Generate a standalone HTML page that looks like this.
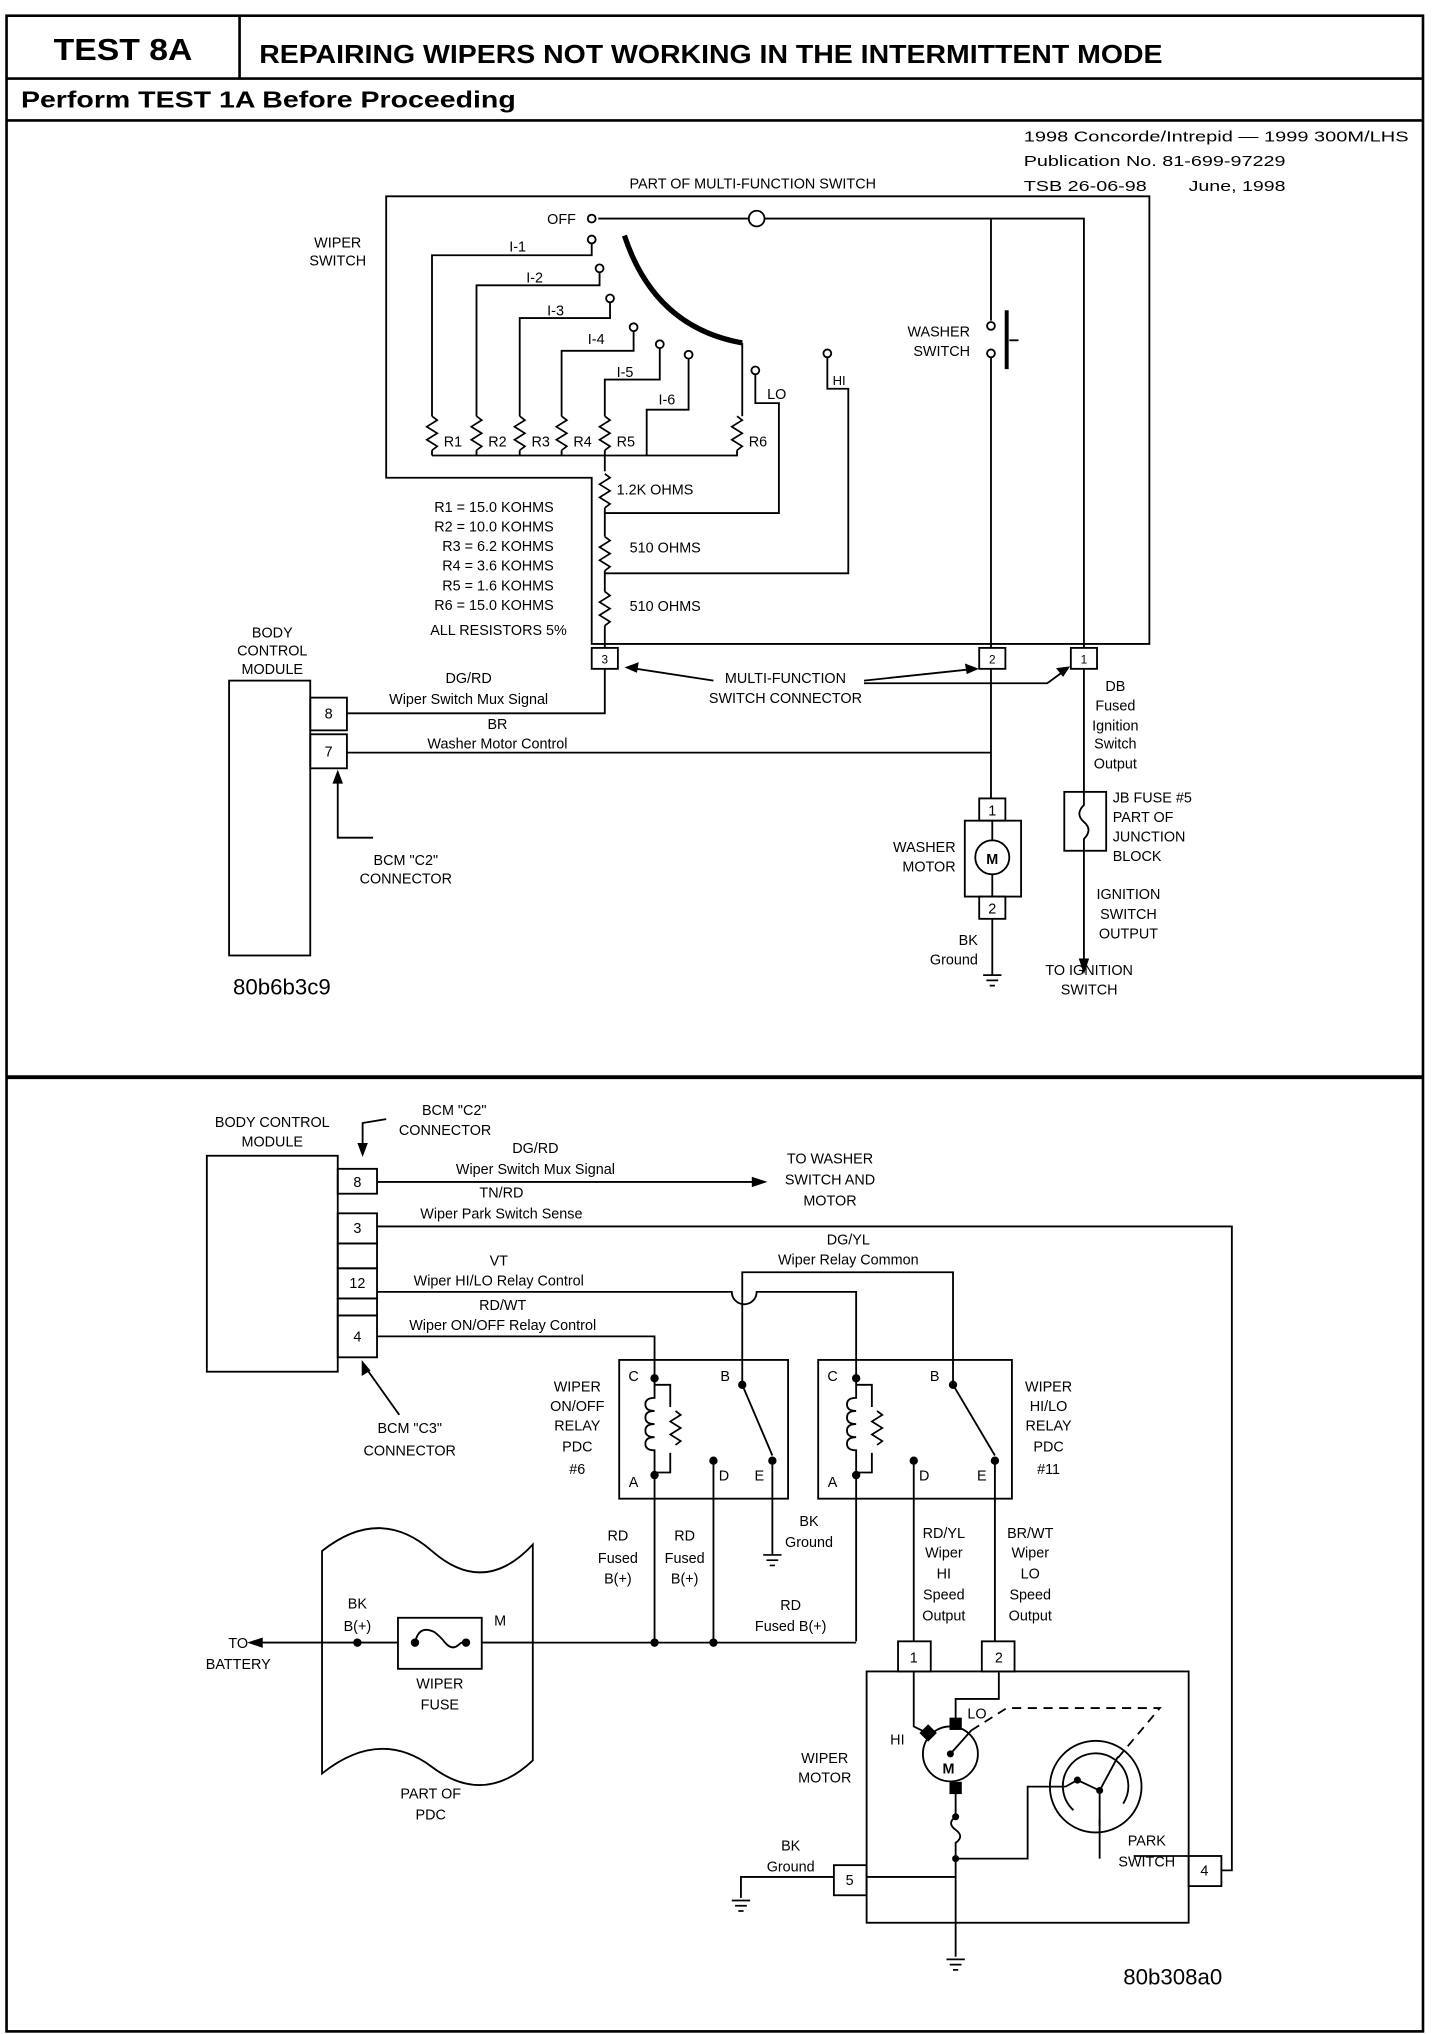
<!DOCTYPE html>
<html><head><meta charset="utf-8"><style>
html,body{margin:0;padding:0;background:#fff}
svg{display:block}
text{font-family:"Liberation Sans",sans-serif;font-size:11px;fill:#000}
</style></head><body>
<svg width="1440" height="2034" viewBox="0 0 1100 1554" preserveAspectRatio="none" xmlns="http://www.w3.org/2000/svg">
<defs>
<path id="zig" d="M0 0 l4 3 l-8 5 l8 5 l-8 5 l8 5 l-4 3" fill="none" stroke="#000" stroke-width="1.3"/>
<path id="gnd" d="M-7 0 h14 M-4.5 4 h9 M-2 8 h4" stroke="#000" stroke-width="1.3" fill="none"/>
</defs>
<g fill="none" stroke="#000" stroke-width="1.4">
<rect x="5" y="12" width="1082" height="1540" stroke-width="2"/>
<line x1="5" y1="60" x2="1087" y2="60" stroke-width="2"/>
<line x1="183" y1="12" x2="183" y2="60" stroke-width="2"/>
<line x1="5" y1="92" x2="1087" y2="92" stroke-width="2"/>
<line x1="5" y1="823" x2="1087" y2="823" stroke-width="3"/>

<path d="M295 150 H878 V492 H452 V365 H295 Z"/>
<path d="M457 167 H828 V495"/>
<circle cx="452" cy="167" r="3"/>
<circle cx="578" cy="167" r="6" fill="#fff"/>
<path d="M477 180 Q500 250 567 262" stroke-width="4"/>
<path d="M567 262 V318"/>
<use href="#zig" x="563" y="318"/>
<circle cx="452" cy="183" r="3"/><path d="M452 186 V195 H330 V318"/>
<circle cx="458" cy="205" r="3"/><path d="M458 208 V218 H364 V318"/>
<circle cx="466" cy="228" r="3"/><path d="M466 231 V243 H397 V318"/>
<circle cx="484" cy="250" r="3"/><path d="M484 253 V268 H429 V318"/>
<circle cx="504" cy="263" r="3"/><path d="M504 266 V290 H462 V318"/>
<circle cx="526" cy="271" r="3"/><path d="M526 274 V313 H494 V348"/>
<circle cx="577" cy="283" r="3"/><path d="M577 286 V308 H595 V392 H462"/>
<circle cx="632" cy="270" r="3"/><path d="M632 273 V297 H648 V438 H462"/>
<use href="#zig" x="330" y="318"/><use href="#zig" x="364" y="318"/><use href="#zig" x="397" y="318"/>
<use href="#zig" x="429" y="318"/><use href="#zig" x="462" y="318"/>
<path d="M330 344 V348 M364 344 V348 M397 344 V348 M429 344 V348 M462 344 V360 M563 344 V348 H330"/>
<use href="#zig" x="462" y="362"/><path d="M462 388 V410"/>
<use href="#zig" x="462" y="410"/><path d="M462 436 V452"/>
<use href="#zig" x="462" y="452"/><path d="M462 478 V495"/>
<path d="M757 167 V245 M757 273 V495"/>
<circle cx="757" cy="249" r="3"/><circle cx="757" cy="270" r="3"/>
<path d="M769 237 V282" stroke-width="3"/><path d="M771 260 H778"/>
<rect x="452" y="495" width="20" height="16"/><rect x="748" y="495" width="20" height="16"/><rect x="818" y="495" width="20" height="16"/>
<rect x="175" y="520" width="62" height="210"/>
<rect x="237" y="533" width="28" height="25"/><rect x="237" y="561" width="28" height="26"/>
<path d="M265 545 H462 V511"/>
<path d="M265 575 H757"/>
<path d="M757 511 V610"/>
<path d="M258 590 V640 H285"/><path d="M258 590 l-3 8 h6 z" fill="#000"/>
<path d="M545 520 L480 510"/><path d="M479 510 l8 -3 l-1 6 z" fill="#000"/>
<path d="M660 520 L745 511"/><path d="M746 511 l-8 -3 l1 6 z" fill="#000"/>
<path d="M660 522 H800 L815 511"/><path d="M816 510 l-8 1 l4 5 z" fill="#000"/>
<rect x="748" y="610" width="20" height="17"/>
<rect x="737" y="627" width="43" height="58"/>
<circle cx="758" cy="655" r="13"/>
<rect x="748" y="685" width="20" height="17"/>
<path d="M758 627 V642 M758 668 V685 M758 702 V745"/>
<use href="#gnd" x="758" y="745"/>
<path d="M828 511 V735"/>
<rect x="813" y="605" width="32" height="45" fill="#fff"/>
<path d="M828 605 V615 q-7 7 0 13 q7 6 0 13 V650"/>
<path d="M828 742 l-3 -9 h6 z" fill="#000"/>

<rect x="158" y="883" width="100" height="165"/>
<rect x="258" y="893" width="30" height="19"/><rect x="258" y="927" width="30" height="23"/>
<rect x="258" y="950" width="30" height="19"/><rect x="258" y="969" width="30" height="23"/>
<rect x="258" y="992" width="30" height="13"/><rect x="258" y="1005" width="30" height="32"/>
<path d="M295 855 L277 858 V880"/><path d="M277 882 l-3 -8 h6 z" fill="#000"/>
<path d="M305 1081 L278 1043"/><path d="M277 1041 l0 9 l5 -3 z" fill="#000"/>
<path d="M288 903 H576"/><path d="M584 903 l-9 -3 v6 z" fill="#000"/>
<path d="M288 937 H941 V1429 H933"/>
<path d="M288 987 H559 a9.5 9.5 0 0 0 19 0 H654 V1053"/>
<path d="M288 1021 H500 V1053"/>
<path d="M567 1058 V972 H728 V1058"/>
<rect x="473" y="1039" width="129" height="106"/>
<circle cx="500" cy="1053" r="2.5" fill="#000"/><circle cx="500" cy="1127" r="2.5" fill="#000"/>
<path d="M500 1053 V1068 q-7 0 -7 5 q0 5 7 5 q-7 0 -7 5 q0 5 7 5 q-7 0 -7 5 q0 5 7 5 q-7 0 -7 5 q0 5 7 5 V1127"/>
<path d="M500 1058 H512 V1075 M512 1110 V1125 H500"/>
<use href="#zig" x="516" y="1078"/>
<circle cx="567" cy="1058" r="2.5" fill="#000"/><path d="M567 1058 L590 1112"/>
<circle cx="590" cy="1116" r="2.5" fill="#000"/><circle cx="545" cy="1116" r="2.5" fill="#000"/>
<path d="M500 1127 V1255 M545 1116 V1255 M590 1116 V1188"/>
<use href="#gnd" x="590" y="1188"/>
<rect x="625" y="1039" width="148" height="106"/>
<circle cx="654" cy="1053" r="2.5" fill="#000"/><circle cx="654" cy="1127" r="2.5" fill="#000"/>
<path d="M654 1053 V1068 q-7 0 -7 5 q0 5 7 5 q-7 0 -7 5 q0 5 7 5 q-7 0 -7 5 q0 5 7 5 q-7 0 -7 5 q0 5 7 5 V1127"/>
<path d="M654 1058 H666 V1075 M666 1110 V1125 H654"/>
<use href="#zig" x="670" y="1078"/>
<circle cx="728" cy="1058" r="2.5" fill="#000"/><path d="M728 1058 L760 1112"/>
<circle cx="760" cy="1116" r="2.5" fill="#000"/><circle cx="698" cy="1116" r="2.5" fill="#000"/>
<path d="M654 1127 V1254 M698 1116 V1254 M760 1116 V1254"/>
<path d="M199 1255 H654"/><path d="M191 1255 l9 -3 v6 z" fill="#000"/>
<circle cx="273" cy="1255" r="2.5" fill="#000"/><circle cx="500" cy="1255" r="2.5" fill="#000"/><circle cx="545" cy="1255" r="2.5" fill="#000"/>
<path d="M246 1185 Q290 1150 330 1185 T407 1180 V1345 Q370 1380 330 1350 T246 1355 Z"/>
<rect x="304" y="1236" width="64" height="39" fill="#fff"/>
<path d="M317 1255 q3 -14 15 -8 q5 4 8 8 q5 6 10 2 q3 -3 5 -2"/>
<circle cx="317" cy="1255" r="2.5" fill="#000"/><circle cx="356" cy="1255" r="2.5" fill="#000"/>
<path d="M304 1255 H199 M368 1255 H407"/>
<rect x="686" y="1254" width="25" height="23"/><rect x="750" y="1254" width="25" height="23"/>
<rect x="662" y="1277" width="246" height="192"/>
<rect x="637" y="1425" width="25" height="23"/><rect x="908" y="1418" width="25" height="23"/>
<path d="M698 1277 V1319 L708 1324 M763 1277 V1298 H730 V1314"/>
<circle cx="726" cy="1340" r="21"/>
<rect x="705" y="1320" width="8" height="8" fill="#000" transform="rotate(45 709 1324)"/>
<rect x="726" y="1313" width="8" height="8" fill="#000"/>
<rect x="726" y="1362" width="8" height="8" fill="#000"/>
<path d="M726 1340 L742 1322"/><circle cx="726" cy="1340" r="2" fill="#000"/>
<path d="M730 1370 V1388 q-7 5 0 10 q7 5 0 10 V1495"/>
<circle cx="730" cy="1388" r="2" fill="#000"/><circle cx="730" cy="1420" r="2" fill="#000"/>
<path d="M730 1420 H785 V1365 H814"/>
<path d="M662 1434 H730"/>
<path d="M637 1434 H566 V1450"/>
<use href="#gnd" x="566" y="1452"/>
<use href="#gnd" x="730" y="1497"/>
<circle cx="837" cy="1365" r="35"/>
<path d="M820 1383 A25 25 0 1 1 858 1378"/>
<path d="M814 1365 L823 1360 L840 1368 L854 1342 M840 1368 L840 1395"/>
<circle cx="840" cy="1368" r="2" fill="#000"/><circle cx="823" cy="1360" r="2" fill="#000"/>
<path d="M840 1390 V1420 M866 1418 H908"/>
<path d="M742 1322 L769 1305 H886 L854 1343" stroke-dasharray="7,5"/>
</g>

<text x="41" y="46" textLength="106" lengthAdjust="spacingAndGlyphs" style="font-size:23px;font-weight:bold">TEST 8A</text>
<text x="198" y="48" textLength="690" lengthAdjust="spacingAndGlyphs" style="font-size:20px;font-weight:bold">REPAIRING WIPERS NOT WORKING IN THE INTERMITTENT MODE</text>
<text x="16" y="82" textLength="378" lengthAdjust="spacingAndGlyphs" style="font-size:18px;font-weight:bold">Perform TEST 1A Before Proceeding</text>
<g style="font-size:13px">
<text x="782" y="108" textLength="294" lengthAdjust="spacingAndGlyphs">1998 Concorde/Intrepid — 1999 300M/LHS</text>
<text x="782" y="127" textLength="200" lengthAdjust="spacingAndGlyphs">Publication No. 81-699-97229</text>
<text x="782" y="146" textLength="94" lengthAdjust="spacingAndGlyphs">TSB 26-06-98</text><text x="908" y="146" textLength="74" lengthAdjust="spacingAndGlyphs">June, 1998</text>
</g>
<text x="575" y="144" text-anchor="middle">PART OF MULTI-FUNCTION SWITCH</text>
<text x="418" y="171">OFF</text>
<text x="258" y="189" text-anchor="middle">WIPER</text><text x="258" y="203" text-anchor="middle">SWITCH</text>
<text x="389" y="192">I-1</text><text x="402" y="216">I-2</text><text x="418" y="241">I-3</text>
<text x="449" y="263">I-4</text><text x="471" y="288">I-5</text><text x="503" y="309">I-6</text>
<text x="586" y="305">LO</text><text x="636" y="294" style="font-size:10px">HI</text>
<text x="339" y="341">R1</text><text x="373" y="341">R2</text><text x="406" y="341">R3</text>
<text x="438" y="341">R4</text><text x="471" y="341">R5</text><text x="572" y="341">R6</text>
<text x="471" y="378">1.2K OHMS</text><text x="481" y="422">510 OHMS</text><text x="481" y="467">510 OHMS</text>
<g text-anchor="end">
<text x="423" y="391">R1 = 15.0 KOHMS</text><text x="423" y="406">R2 = 10.0 KOHMS</text>
<text x="423" y="421">R3 =  6.2 KOHMS</text><text x="423" y="436">R4 =  3.6 KOHMS</text>
<text x="423" y="451">R5 =  1.6 KOHMS</text><text x="423" y="466">R6 = 15.0 KOHMS</text>
<text x="433" y="485">ALL RESISTORS 5%</text>
<text x="741" y="257">WASHER</text><text x="741" y="272">SWITCH</text>
<text x="730" y="651">WASHER</text><text x="730" y="666">MOTOR</text>
<text x="747" y="722">BK</text><text x="747" y="737">Ground</text>
</g>
<g text-anchor="middle">
<text x="462" y="507" style="font-size:9px">3</text><text x="758" y="507" style="font-size:9px">2</text><text x="828" y="507" style="font-size:9px">1</text>
<text x="208" y="487">BODY</text><text x="208" y="501">CONTROL</text><text x="208" y="515">MODULE</text>
<text x="251" y="549">8</text><text x="251" y="578">7</text>
<text x="358" y="522">DG/RD</text><text x="358" y="538">Wiper Switch Mux Signal</text>
<text x="380" y="557">BR</text><text x="380" y="572">Washer Motor Control</text>
<text x="310" y="661">BCM "C2"</text><text x="310" y="675">CONNECTOR</text>
<text x="600" y="522">MULTI-FUNCTION</text><text x="600" y="537">SWITCH CONNECTOR</text>
<text x="852" y="528">DB</text><text x="852" y="543">Fused</text><text x="852" y="558">Ignition</text>
<text x="852" y="572">Switch</text><text x="852" y="587">Output</text>
<text x="758" y="623">1</text><text x="758" y="698">2</text><text x="758" y="660" style="font-weight:bold">M</text>
<text x="862" y="687">IGNITION</text><text x="862" y="702">SWITCH</text><text x="862" y="717">OUTPUT</text>
<text x="832" y="745">TO IGNITION</text><text x="832" y="760">SWITCH</text>
</g>
<text x="850" y="613">JB FUSE #5</text><text x="850" y="628">PART OF</text><text x="850" y="643">JUNCTION</text><text x="850" y="658">BLOCK</text>
<text x="178" y="760" style="font-size:17px">80b6b3c9</text>

<g text-anchor="middle">
<text x="208" y="861">BODY CONTROL</text><text x="208" y="876">MODULE</text>
<text x="347" y="852">BCM "C2"</text><text x="340" y="867">CONNECTOR</text>
<text x="273" y="907">8</text><text x="273" y="942">3</text><text x="273" y="984">12</text><text x="273" y="1025">4</text>
<text x="409" y="881">DG/RD</text><text x="409" y="897">Wiper Switch Mux Signal</text>
<text x="634" y="889">TO WASHER</text><text x="634" y="905">SWITCH AND</text><text x="634" y="921">MOTOR</text>
<text x="383" y="915">TN/RD</text><text x="383" y="931">Wiper Park Switch Sense</text>
<text x="381" y="967">VT</text><text x="381" y="982">Wiper HI/LO Relay Control</text>
<text x="384" y="1001">RD/WT</text><text x="384" y="1016">Wiper ON/OFF Relay Control</text>
<text x="648" y="951">DG/YL</text><text x="648" y="966">Wiper Relay Common</text>
<text x="313" y="1095">BCM "C3"</text><text x="313" y="1112">CONNECTOR</text>
<text x="484" y="1055">C</text><text x="554" y="1055">B</text><text x="484" y="1136">A</text><text x="553" y="1131">D</text><text x="580" y="1131">E</text>
<text x="636" y="1055">C</text><text x="714" y="1055">B</text><text x="636" y="1136">A</text><text x="706" y="1131">D</text><text x="750" y="1131">E</text>
<text x="441" y="1063">WIPER</text><text x="441" y="1078">ON/OFF</text><text x="441" y="1093">RELAY</text><text x="441" y="1109">PDC</text><text x="441" y="1126">#6</text>
<text x="801" y="1063">WIPER</text><text x="801" y="1078">HI/LO</text><text x="801" y="1093">RELAY</text><text x="801" y="1109">PDC</text><text x="801" y="1126">#11</text>
<text x="472" y="1177">RD</text><text x="472" y="1194">Fused</text><text x="472" y="1210">B(+)</text>
<text x="523" y="1177">RD</text><text x="523" y="1194">Fused</text><text x="523" y="1210">B(+)</text>
<text x="618" y="1166">BK</text><text x="618" y="1182">Ground</text>
<text x="604" y="1230">RD</text><text x="604" y="1246">Fused B(+)</text>
<text x="721" y="1175">RD/YL</text><text x="721" y="1190">Wiper</text><text x="721" y="1206">HI</text><text x="721" y="1222">Speed</text><text x="721" y="1238">Output</text>
<text x="787" y="1175">BR/WT</text><text x="787" y="1190">Wiper</text><text x="787" y="1206">LO</text><text x="787" y="1222">Speed</text><text x="787" y="1238">Output</text>
<text x="273" y="1229">BK</text><text x="273" y="1246">B(+)</text><text x="382" y="1242">M</text>
<text x="182" y="1259">TO</text><text x="182" y="1275">BATTERY</text>
<text x="336" y="1290">WIPER</text><text x="336" y="1306">FUSE</text>
<text x="329" y="1374">PART OF</text><text x="329" y="1390">PDC</text>
<text x="698" y="1270">1</text><text x="763" y="1270">2</text><text x="649" y="1440">5</text><text x="920" y="1433">4</text>
<text x="630" y="1347">WIPER</text><text x="630" y="1362">MOTOR</text>
<text x="604" y="1414">BK</text><text x="604" y="1430">Ground</text>
<text x="876" y="1410">PARK</text><text x="876" y="1426">SWITCH</text>
</g>
<text x="680" y="1333">HI</text><text x="739" y="1313">LO</text><text x="720" y="1355" style="font-weight:bold">M</text>
<text x="858" y="1516" style="font-size:17px">80b308a0</text>
</svg>
</body></html>
